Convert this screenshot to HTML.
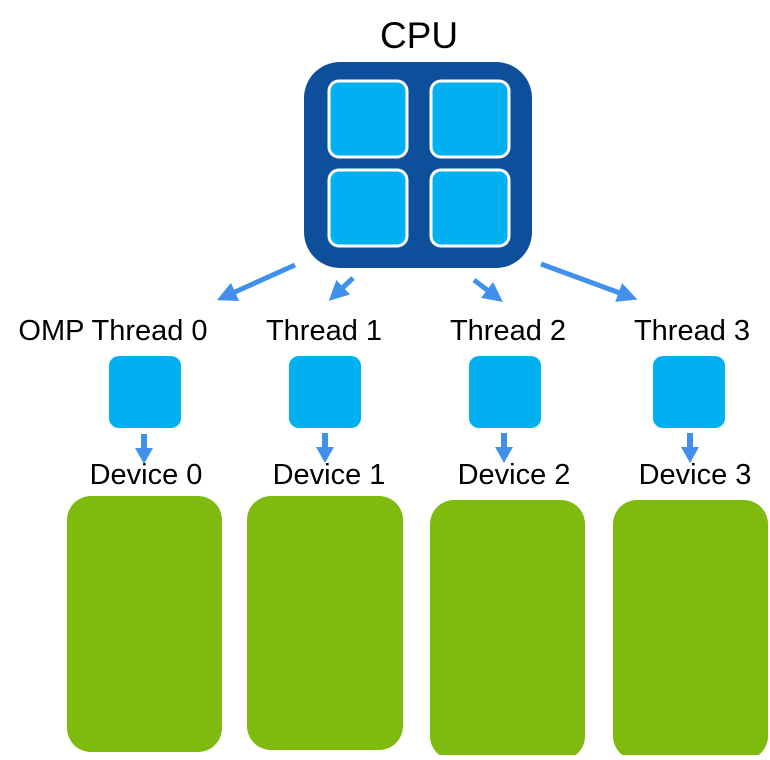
<!DOCTYPE html>
<html><head><style>body{margin:0;background:#fff}</style></head><body>
<svg width="770" height="755" viewBox="0 0 770 755" xmlns="http://www.w3.org/2000/svg" font-family="Liberation Sans, Arial, sans-serif">
<defs><marker id="a" markerWidth="4" markerHeight="4" refX="2" refY="2" orient="auto" markerUnits="strokeWidth"><path d="M0,0 L4,2 L0,4 Z" fill="#4191ec"/></marker></defs>
<text x="419" y="48" font-size="37" text-anchor="middle">CPU</text>
<rect x="304" y="62" width="228" height="206" rx="36" fill="#0e4f9c"/>
<g fill="#00b0f0" stroke="#fff" stroke-width="3">
<rect x="329" y="81" width="78" height="76" rx="10"/>
<rect x="431" y="81" width="78" height="76" rx="10"/>
<rect x="329" y="170" width="78" height="76" rx="10"/>
<rect x="431" y="170" width="78" height="76" rx="10"/>
</g>
<g stroke="#4191ec" stroke-width="5" marker-end="url(#a)">
<line x1="295" y1="265" x2="226" y2="296"/>
<line x1="353" y1="278" x2="336" y2="294"/>
<line x1="474" y1="280" x2="495" y2="296"/>
<line x1="541" y1="264" x2="628" y2="296"/>
</g>
<g font-size="29" text-anchor="middle">
<text x="113" y="340">OMP Thread 0</text>
<text x="324" y="340">Thread 1</text>
<text x="508" y="340">Thread 2</text>
<text x="692" y="340">Thread 3</text>
<text x="146" y="484">Device 0</text>
<text x="329" y="484">Device 1</text>
<text x="514" y="484">Device 2</text>
<text x="695" y="484">Device 3</text>
</g>
<g fill="#00b0f0">
<rect x="109" y="356" width="72" height="72" rx="10"/>
<rect x="289" y="356" width="72" height="72" rx="10"/>
<rect x="469" y="356" width="72" height="72" rx="10"/>
<rect x="653" y="356" width="72" height="72" rx="10"/>
</g>
<g fill="#4191ec">
<rect x="141" y="434" width="6" height="16"/><path d="M135,448 L153,448 L144,464Z"/>
<rect x="322" y="433" width="6" height="16"/><path d="M316,447 L334,447 L325,463Z"/>
<rect x="501" y="433" width="6" height="16"/><path d="M495,447 L513,447 L504,463Z"/>
<rect x="687" y="433" width="6" height="16"/><path d="M681,447 L699,447 L690,463Z"/>
</g>
<g fill="#7fba0f">
<rect x="67" y="496" width="155" height="256" rx="24"/>
<rect x="247" y="496" width="156" height="254" rx="24"/>
<rect x="430" y="500" width="155" height="260" rx="24"/>
<rect x="613" y="500" width="155" height="260" rx="24"/>
</g>
</svg>
</body></html>
